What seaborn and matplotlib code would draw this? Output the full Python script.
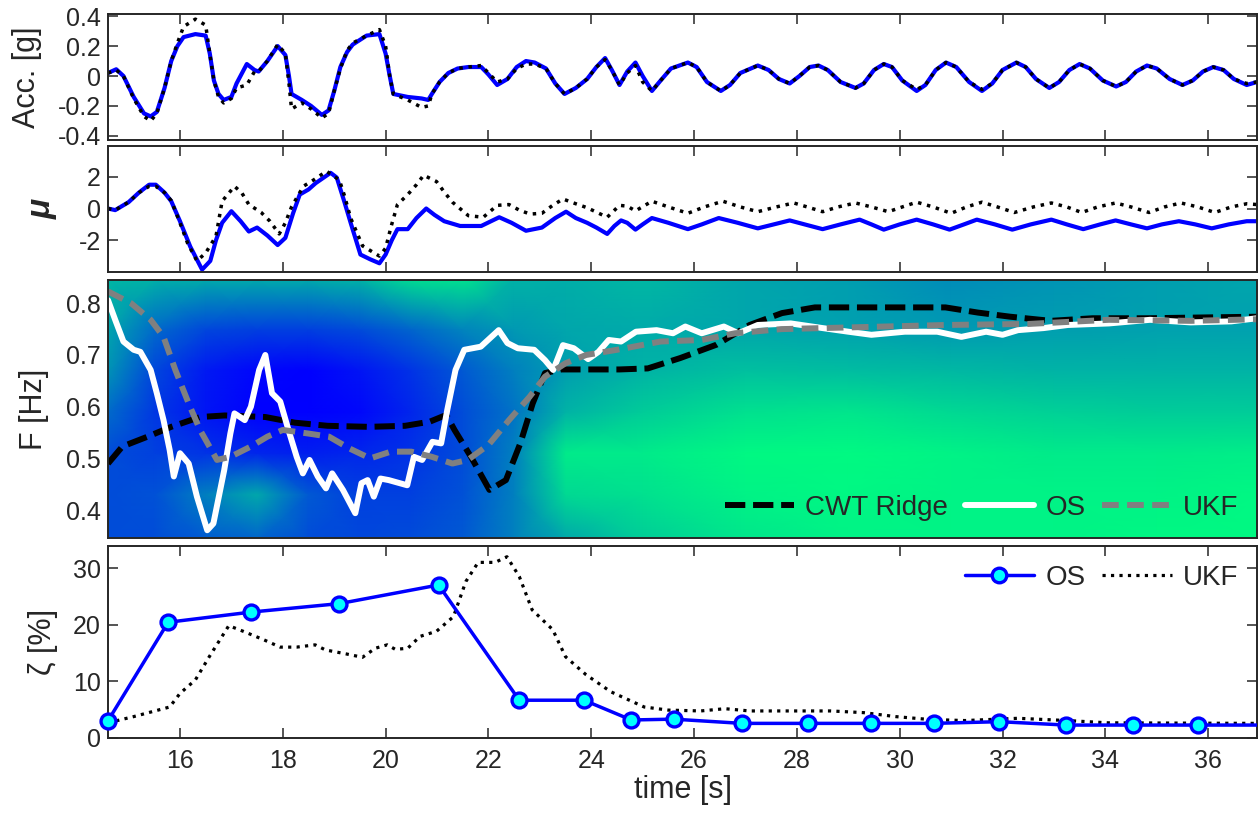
import numpy as np
import matplotlib
matplotlib.use("Agg")
import matplotlib.pyplot as plt
from matplotlib.lines import Line2D
import seaborn as sns

# ---------------- data ----------------
acc_t = [14.60, 14.76, 14.90, 15.10, 15.30, 15.43, 15.55, 15.70, 15.83, 15.95, 16.07, 16.30, 16.50, 16.58,
         16.66, 16.75, 16.85, 17.00, 17.10, 17.30, 17.45, 17.53, 17.70, 17.90, 18.05, 18.12, 18.17, 18.37,
         18.55, 18.76, 18.89, 19.00, 19.12, 19.25, 19.36, 19.63, 19.88, 20.00, 20.08, 20.15, 20.43, 20.70,
         20.83, 20.90, 21.05, 21.22, 21.40, 21.61, 21.86, 22.00, 22.17, 22.37, 22.55, 22.73, 22.90, 23.12,
         23.30, 23.48, 23.70, 23.92, 24.10, 24.27, 24.40, 24.55, 24.70, 24.86, 25.00, 25.18, 25.35, 25.55,
         25.88, 26.05, 26.25, 26.52, 26.70, 26.90, 27.24, 27.45, 27.65, 27.86, 28.05, 28.25, 28.42, 28.60,
         28.85, 29.14, 29.30, 29.50, 29.69, 29.85, 30.05, 30.33, 30.50, 30.70, 30.90, 31.10, 31.35, 31.60,
         31.80, 32.00, 32.27, 32.45, 32.65, 32.91, 33.10, 33.30, 33.50, 33.70, 33.95, 34.21, 34.40, 34.60,
         34.81, 35.00, 35.25, 35.50, 35.70, 35.90, 36.10, 36.30, 36.50, 36.75, 36.95]
acc_os = [0.02, 0.045, 0.00, -0.14, -0.25, -0.27, -0.24, -0.08, 0.10, 0.20, 0.26, 0.28, 0.27, 0.15,
          -0.03, -0.12, -0.16, -0.14, -0.05, 0.08, 0.04, 0.03, 0.10, 0.20, 0.14, 0.00, -0.12, -0.16,
          -0.20, -0.26, -0.23, -0.10, 0.06, 0.16, 0.21, 0.27, 0.28, 0.15, 0.00, -0.12, -0.14, -0.15,
          -0.16, -0.12, -0.04, 0.02, 0.05, 0.06, 0.06, 0.01, -0.06, -0.02, 0.06, 0.10, 0.09, 0.05,
          -0.05, -0.12, -0.08, -0.02, 0.06, 0.12, 0.04, -0.06, 0.03, 0.09, 0.00, -0.10, -0.03, 0.05,
          0.09, 0.06, -0.04, -0.10, -0.06, 0.02, 0.07, 0.04, -0.02, -0.05, 0.00, 0.06, 0.07, 0.04,
          -0.04, -0.08, -0.05, 0.04, 0.08, 0.06, -0.03, -0.10, -0.06, 0.04, 0.09, 0.06, -0.04, -0.10,
          -0.05, 0.04, 0.09, 0.06, -0.02, -0.08, -0.04, 0.04, 0.08, 0.05, -0.03, -0.07, -0.04, 0.03,
          0.07, 0.05, -0.02, -0.06, -0.03, 0.03, 0.06, 0.04, -0.02, -0.06, -0.04]
acc_meas = [0.02, 0.04, 0.00, -0.15, -0.27, -0.30, -0.25, -0.08, 0.10, 0.22, 0.33, 0.38, 0.34, 0.15,
            -0.03, -0.14, -0.18, -0.15, -0.08, -0.06, 0.03, 0.03, 0.10, 0.21, 0.15, -0.05, -0.22, -0.18,
            -0.22, -0.28, -0.25, -0.10, 0.05, 0.17, 0.22, 0.27, 0.31, 0.20, 0.00, -0.12, -0.16, -0.21,
            -0.20, -0.12, -0.04, 0.02, 0.05, 0.06, 0.07, 0.02, -0.04, -0.02, 0.05, 0.08, 0.08, 0.05,
            -0.05, -0.12, -0.08, -0.02, 0.06, 0.11, 0.04, -0.06, 0.02, 0.07, -0.04, -0.10, -0.03, 0.05,
            0.09, 0.06, -0.04, -0.10, -0.06, 0.02, 0.07, 0.04, -0.02, -0.05, 0.00, 0.06, 0.07, 0.04,
            -0.04, -0.08, -0.05, 0.04, 0.08, 0.06, -0.03, -0.09, -0.06, 0.04, 0.09, 0.06, -0.04, -0.09,
            -0.05, 0.04, 0.09, 0.06, -0.02, -0.08, -0.04, 0.04, 0.08, 0.05, -0.03, -0.07, -0.04, 0.03,
            0.07, 0.05, -0.02, -0.06, -0.03, 0.03, 0.06, 0.04, -0.02, -0.05, -0.04]

mu_os_t = [14.60, 14.74, 15.00, 15.20, 15.40, 15.53, 15.70, 15.83, 16.00, 16.20, 16.43, 16.59, 16.70, 16.82,
           17.00, 17.18, 17.34, 17.50, 17.70, 17.90, 18.05, 18.20, 18.33, 18.50, 18.64, 18.93, 19.05, 19.20,
           19.32, 19.51, 19.70, 19.88, 20.00, 20.12, 20.23, 20.43, 20.60, 20.79, 20.95, 21.14, 21.45, 21.86,
           22.05, 22.21, 22.45, 22.73, 23.04, 23.30, 23.51, 23.70, 23.92, 24.10, 24.31, 24.45, 24.58, 24.70,
           24.86, 25.00, 25.18, 25.50, 25.88, 26.15, 26.48, 26.85, 27.24, 27.55, 27.86, 28.15, 28.50, 28.85,
           29.22, 29.45, 29.69, 30.00, 30.33, 30.65, 30.97, 31.25, 31.50, 31.85, 32.19, 32.55, 32.95, 33.25,
           33.57, 33.90, 34.20, 34.50, 34.81, 35.10, 35.43, 35.75, 36.07, 36.40, 36.75, 36.95]
mu_os = [0.0, -0.1, 0.4, 1.0, 1.5, 1.5, 1.0, 0.46, -0.8, -2.4, -3.85, -3.3, -2.0, -0.9,
         -0.17, -0.8, -1.45, -1.2, -1.7, -2.3, -1.85, -0.3, 0.88, 1.2, 1.6, 2.25, 1.95, 0.4,
         -0.9, -2.9, -3.2, -3.45, -2.9, -2.0, -1.3, -1.3, -0.6, 0.0, -0.4, -0.8, -1.1, -1.1,
         -0.8, -0.55, -0.9, -1.4, -1.2, -0.6, -0.2, -0.6, -0.9, -1.2, -1.6, -1.1, -0.75, -0.9,
         -1.33, -1.0, -0.6, -0.9, -1.3, -1.0, -0.6, -0.9, -1.25, -1.0, -0.75, -1.0, -1.3, -1.0,
         -0.7, -1.0, -1.33, -1.0, -0.7, -1.0, -1.33, -1.0, -0.7, -1.0, -1.33, -1.0, -0.7, -1.0,
         -1.3, -1.0, -0.75, -1.0, -1.25, -1.0, -0.8, -1.0, -1.25, -1.0, -0.8, -0.8]
mu_ukf_t = [14.60, 14.74, 15.00, 15.20, 15.40, 15.53, 15.70, 15.83, 16.00, 16.15, 16.33, 16.50, 16.70, 16.82,
            17.06, 17.20, 17.34, 17.58, 17.75, 17.93, 18.05, 18.17, 18.40, 18.60, 18.85, 19.10, 19.20, 19.32,
            19.55, 19.88, 20.00, 20.11, 20.23, 20.43, 20.60, 20.74, 20.99, 21.15, 21.30, 21.61, 21.90, 22.17,
            22.40, 22.60, 22.81, 23.04, 23.25, 23.45, 23.70, 23.92, 24.31, 24.55, 24.70, 24.86, 25.18, 25.50,
            25.88, 26.20, 26.56, 26.90, 27.24, 27.60, 27.94, 28.20, 28.50, 28.80, 29.14, 29.45, 29.78, 30.05,
            30.33, 30.65, 31.00, 31.30, 31.60, 31.90, 32.23, 32.60, 32.95, 33.25, 33.54, 33.85, 34.20, 34.50,
            34.85, 35.15, 35.47, 35.80, 36.13, 36.45, 36.75, 36.95]
mu_ukf = [0.0, -0.1, 0.4, 1.0, 1.4, 1.4, 1.0, 0.5, -0.9, -2.2, -3.3, -2.8, -1.75, 0.46,
          1.4, 1.0, 0.25, -0.25, -0.8, -1.6, -0.9, 0.1, 1.4, 1.8, 2.35, 1.8, 0.8, -0.6,
          -2.35, -3.0, -2.5, -1.1, 0.25, 0.88, 1.5, 2.1, 1.7, 1.0, 0.4, -0.45, -0.55, 0.2,
          0.25, -0.1, -0.35, -0.3, 0.2, 0.6, 0.3, 0.05, -0.55, 0.2, 0.15, -0.15, 0.46, 0.1,
          -0.3, 0.1, 0.46, 0.1, -0.2, 0.1, 0.35, 0.1, -0.2, 0.1, 0.35, 0.1, -0.2, 0.1,
          0.4, 0.1, -0.3, 0.1, 0.4, 0.1, -0.25, 0.1, 0.35, 0.1, -0.25, 0.1, 0.35, 0.1,
          -0.25, 0.1, 0.35, 0.1, -0.25, 0.1, 0.3, 0.25]

cwt_t = [14.60, 14.88, 15.37, 15.83, 16.39, 16.87, 17.66, 18.24, 18.87, 19.67, 20.38, 20.86, 21.18, 21.34,
         21.66, 22.02, 22.34, 22.62, 22.86, 23.10, 23.42, 24.55, 25.10, 25.73, 26.44, 27.08, 27.71, 28.35,
         30.89, 31.52, 32.15, 32.94, 33.75, 34.80, 36.95]
cwt_f = [0.490, 0.523, 0.542, 0.561, 0.580, 0.583, 0.580, 0.569, 0.563, 0.561, 0.563, 0.571, 0.584, 0.555,
         0.503, 0.439, 0.458, 0.529, 0.606, 0.665, 0.672, 0.672, 0.674, 0.694, 0.720, 0.758, 0.781, 0.792,
         0.792, 0.782, 0.774, 0.766, 0.771, 0.771, 0.774]

os_t = [14.60, 14.74, 14.90, 15.10, 15.23, 15.43, 15.55, 15.68, 15.80, 15.88, 16.00, 16.17, 16.33, 16.53,
        16.65, 16.86, 16.98, 17.06, 17.26, 17.38, 17.54, 17.66, 17.79, 17.95, 18.11, 18.27, 18.39, 18.52,
        18.68, 18.84, 18.96, 19.17, 19.41, 19.53, 19.65, 19.77, 19.90, 20.06, 20.42, 20.55, 20.71, 20.91,
        21.08, 21.20, 21.36, 21.53, 21.85, 22.20, 22.37, 22.57, 22.89, 23.10, 23.26, 23.45, 23.66, 23.94,
        24.14, 24.34, 24.58, 24.87, 25.27, 25.59, 25.83, 26.15, 26.58, 26.86, 27.24, 27.88, 28.50, 29.00,
        29.45, 30.10, 30.73, 31.20, 31.68, 32.00, 32.30, 32.80, 33.27, 34.07, 34.87, 35.66, 36.45, 36.95]
os_f = [0.806, 0.768, 0.726, 0.710, 0.706, 0.671, 0.626, 0.574, 0.516, 0.465, 0.510, 0.490, 0.426, 0.361,
        0.374, 0.477, 0.548, 0.587, 0.574, 0.600, 0.671, 0.700, 0.626, 0.610, 0.555, 0.503, 0.471, 0.497,
        0.465, 0.442, 0.471, 0.439, 0.394, 0.452, 0.458, 0.426, 0.461, 0.458, 0.448, 0.503, 0.497, 0.532,
        0.529, 0.594, 0.671, 0.710, 0.716, 0.748, 0.723, 0.713, 0.710, 0.690, 0.671, 0.719, 0.713, 0.692,
        0.706, 0.729, 0.726, 0.745, 0.748, 0.742, 0.755, 0.742, 0.755, 0.742, 0.758, 0.761, 0.752, 0.745,
        0.739, 0.745, 0.745, 0.735, 0.745, 0.739, 0.748, 0.752, 0.758, 0.761, 0.768, 0.763, 0.765, 0.771]

ukf_t = [14.60, 15.05, 15.43, 15.68, 15.91, 16.17, 16.39, 16.72, 16.98, 17.38, 17.70, 18.00, 18.50, 18.90,
         19.30, 19.70, 20.10, 20.50, 20.90, 21.30, 21.60, 22.00, 22.40, 22.80, 23.10, 23.50, 23.90, 24.50,
         25.35, 26.15, 26.80, 27.70, 29.30, 30.90, 32.50, 34.07, 35.66, 36.95]
ukf_f = [0.823, 0.800, 0.768, 0.735, 0.671, 0.606, 0.555, 0.497, 0.503, 0.523, 0.542, 0.555, 0.548, 0.542,
         0.519, 0.500, 0.513, 0.513, 0.503, 0.490, 0.497, 0.526, 0.574, 0.619, 0.658, 0.684, 0.700, 0.710,
         0.726, 0.729, 0.742, 0.750, 0.754, 0.758, 0.760, 0.768, 0.766, 0.769]

# CWT scalogram (normalised magnitude) on a coarse grid
scal_t = [14.6, 15.5, 16.5, 17.5, 18.5, 19.5, 20.5, 21.5, 22.5, 23.5, 25.0, 27.0, 29.0, 31.0, 33.0, 35.0, 37.0]
scal_f = [0.34, 0.43, 0.51, 0.59, 0.67, 0.75, 0.85]
scal_row_034 = [0.30, 0.30, 0.35, 0.38, 0.30, 0.28, 0.30, 0.35, 0.50, 0.65, 0.80, 0.90, 0.95, 0.95, 0.95, 0.97, 0.98]
scal_row_043 = [0.30, 0.32, 0.50, 0.66, 0.35, 0.25, 0.25, 0.32, 0.50, 0.85, 0.88, 0.95, 0.97, 0.95, 0.95, 0.95, 0.97]
scal_row_051 = [0.30, 0.25, 0.20, 0.15, 0.12, 0.15, 0.20, 0.30, 0.50, 0.92, 0.92, 0.97, 0.98, 0.95, 0.92, 0.92, 0.93]
scal_row_059 = [0.42, 0.22, 0.08, 0.00, 0.00, 0.03, 0.15, 0.30, 0.45, 0.70, 0.80, 0.88, 0.90, 0.85, 0.82, 0.80, 0.80]
scal_row_067 = [0.58, 0.28, 0.10, 0.02, 0.00, 0.08, 0.20, 0.35, 0.50, 0.62, 0.70, 0.75, 0.74, 0.72, 0.70, 0.70, 0.70]
scal_row_075 = [0.65, 0.42, 0.28, 0.25, 0.25, 0.30, 0.40, 0.52, 0.60, 0.65, 0.67, 0.65, 0.63, 0.60, 0.62, 0.63, 0.63]
scal_row_085 = [0.72, 0.70, 0.68, 0.68, 0.68, 0.72, 0.88, 0.90, 0.70, 0.68, 0.72, 0.65, 0.62, 0.55, 0.58, 0.62, 0.65]

zeta_os_t = [14.60, 15.77, 17.38, 19.10, 21.03, 22.60, 23.86, 24.78, 25.60, 26.93, 28.21, 29.44, 30.66, 31.94,
             33.24, 34.54, 35.80, 37.10]
zeta_os = [2.96, 20.4, 22.2, 23.7, 27.0, 6.6, 6.6, 3.1, 3.25, 2.5, 2.5, 2.5, 2.5, 2.8, 2.2, 2.2, 2.2, 2.2]
zeta_ukf_t = [14.60, 15.10, 15.80, 16.00, 16.30, 16.57, 16.95, 17.23, 17.63, 17.95, 18.27, 18.63, 18.83, 19.23,
              19.55, 19.80, 20.03, 20.19, 20.43, 20.67, 20.99, 21.32, 21.56, 21.80, 22.13, 22.36, 22.60, 22.85,
              23.25, 23.50, 23.90, 24.38, 25.03, 25.50, 26.13, 26.60, 27.08, 28.66, 29.30, 29.92, 30.56, 31.27,
              32.30, 33.26, 34.05, 36.95]
zeta_ukf = [2.6, 3.7, 5.4, 7.8, 10.2, 14.3, 19.8, 18.8, 17.3, 16.0, 16.0, 16.4, 15.5, 14.8,
            14.2, 15.8, 16.4, 15.6, 15.8, 17.9, 18.8, 21.4, 27.6, 31.0, 31.0, 32.0, 28.5, 22.6,
            19.1, 14.3, 11.1, 8.1, 5.4, 4.85, 4.7, 5.1, 4.7, 4.7, 4.4, 3.7, 3.2, 3.0,
            3.4, 3.0, 2.6, 2.5]

x_ticks = [16, 18, 20, 22, 24, 26, 28, 30, 32, 34, 36]
acc_ticks = [-0.4, -0.2, 0, 0.2, 0.4]
acc_labels = ["-0.4", "-0.2", "0", "0.2", "0.4"]
mu_ticks = [-2, 0, 2]
mu_labels = ["-2", "0", "2"]
f_ticks = [0.4, 0.5, 0.6, 0.7, 0.8]
f_labels = ["0.4", "0.5", "0.6", "0.7", "0.8"]
z_ticks = [0, 10, 20, 30]
z_labels = ["0", "10", "20", "30"]

# ---------------- style ----------------
sns.set_style("ticks")
plt.rcParams['font.family'] = ['Liberation Sans', 'DejaVu Sans']
plt.rcParams['axes.linewidth'] = 1.4
plt.rcParams['axes.edgecolor'] = '#262626'

TFS = 18    # tick labels
LFS = 22    # axis labels
GFS = 20    # legends
XLIM = (14.6, 36.95)

fig = plt.figure(figsize=(12.59, 8.13), dpi=100)
L, W = 108 / 1259, 1149 / 1259
ax1 = fig.add_axes([L, 1 - 140.5 / 813, W, 126 / 813])
ax2 = fig.add_axes([L, 1 - 272 / 813, W, 126 / 813])
ax3 = fig.add_axes([L, 1 - 538 / 813, W, 258 / 813])
ax4 = fig.add_axes([L, 1 - 737.5 / 813, W, 191.5 / 813])


def style(ax, yt, yl, bottom=False):
    ax.set_xlim(*XLIM)
    ax.set_xticks(x_ticks)
    ax.set_yticks(yt)
    ax.set_yticklabels(yl, fontsize=TFS)
    ax.tick_params(direction='in', top=True, right=True, length=7, width=1.1, labelsize=TFS)
    ax.tick_params(axis='y', pad=5)
    ax.tick_params(axis='x', pad=8)
    if bottom:
        ax.set_xticklabels([str(v) for v in x_ticks], fontsize=TFS)
    else:
        ax.set_xticklabels([])
    ax.set_xlabel("")
    for s in ax.spines.values():
        s.set_visible(True)


# Panel 1: acceleration
sns.lineplot(x=acc_t, y=acc_os, ax=ax1, color='#0000ff', lw=3.0, estimator=None, errorbar=None)
sns.lineplot(x=acc_t, y=acc_meas, ax=ax1, color='black', lw=2.5, linestyle=':', estimator=None, errorbar=None)
ax1.set_ylim(-0.431, 0.411)
style(ax1, acc_ticks, acc_labels)
ax1.set_ylabel("Acc. [g]", fontsize=LFS)
ax1.yaxis.set_label_coords(-0.0574, 0.5)

# Panel 2: mu
sns.lineplot(x=mu_os_t, y=mu_os, ax=ax2, color='#0000ff', lw=3.0, estimator=None, errorbar=None)
sns.lineplot(x=mu_ukf_t, y=mu_ukf, ax=ax2, color='black', lw=2.5, linestyle=':', estimator=None, errorbar=None)
ax2.set_ylim(-4.0, 3.94)
style(ax2, mu_ticks, mu_labels)
ax2.set_ylabel("μ", fontsize=LFS + 2, fontweight='bold', fontstyle='italic')
ax2.yaxis.set_label_coords(-0.0435, 0.5)

# Panel 3: scalogram + frequency tracks
Z = np.array([scal_row_034, scal_row_043, scal_row_051, scal_row_059,
              scal_row_067, scal_row_075, scal_row_085])
T, Fm = np.meshgrid(scal_t, scal_f)
ax3.pcolormesh(T, Fm, Z, shading='gouraud', cmap='winter', vmin=0, vmax=1, zorder=0, rasterized=True)
sns.lineplot(x=cwt_t, y=cwt_f, ax=ax3, color='black', lw=4.3, linestyle='--', estimator=None, errorbar=None)
ax3.lines[-1].set_dashes([3.4, 1.3])
sns.lineplot(x=os_t, y=os_f, ax=ax3, color='white', lw=4.3, estimator=None, errorbar=None)
sns.lineplot(x=ukf_t, y=ukf_f, ax=ax3, color='#808080', lw=4.3, linestyle='--', estimator=None, errorbar=None)
ax3.lines[-1].set_dashes([2.8, 1.4])
ax3.set_ylim(0.346, 0.845)
style(ax3, f_ticks, f_labels)
ax3.tick_params(length=0)
ax3.set_ylabel("F [Hz]", fontsize=LFS)
ax3.yaxis.set_label_coords(-0.0513, 0.5)
h3 = [Line2D([], [], color='black', lw=4.3, dashes=[3.4, 1.3]),
      Line2D([], [], color='white', lw=4.3),
      Line2D([], [], color='#808080', lw=4.3, dashes=[2.8, 1.4])]
ax3.legend(h3, ["CWT Ridge", "OS", "UKF"], loc='center right', bbox_to_anchor=(0.9835, 0.116),
           ncol=3, frameon=False, fontsize=GFS, handlelength=2.5, handletextpad=0.4,
           columnspacing=0.6, borderpad=0, borderaxespad=0)

# Panel 4: damping
sns.lineplot(x=zeta_os_t, y=zeta_os, ax=ax4, color='#0000ff', lw=2.5,
             estimator=None, errorbar=None, zorder=3)
mk_t = [t for t in zeta_os_t if t <= XLIM[1]]
mk_v = [v for t, v in zip(zeta_os_t, zeta_os) if t <= XLIM[1]]
sns.scatterplot(x=mk_t, y=mk_v, ax=ax4, s=115, color='#00ffff', edgecolor='#0000ff', linewidth=2.4,
                zorder=4, clip_on=False, legend=False)
sns.lineplot(x=zeta_ukf_t, y=zeta_ukf, ax=ax4, color='black', lw=2.3, linestyle=':',
             estimator=None, errorbar=None, zorder=2)
ax4.set_ylim(0, 33.9)
style(ax4, z_ticks, z_labels, bottom=True)
ax4.set_ylabel("ζ [%]", fontsize=LFS)
ax4.yaxis.set_label_coords(-0.0435, 0.5)
ax4.set_xlabel("time [s]", fontsize=LFS, labelpad=2)
h4 = [Line2D([], [], color='#0000ff', lw=2.5, marker='o', markersize=10.5, markerfacecolor='#00ffff',
             markeredgecolor='#0000ff', markeredgewidth=2.4),
      Line2D([], [], color='black', lw=2.3, linestyle=':')]
ax4.legend(h4, ["OS", "UKF"], loc='center right', bbox_to_anchor=(0.9835, 0.833), ncol=2,
           frameon=False, fontsize=GFS, handlelength=2.5, handletextpad=0.4, columnspacing=0.6,
           borderpad=0, borderaxespad=0)

fig.savefig("out.png", dpi=100)
